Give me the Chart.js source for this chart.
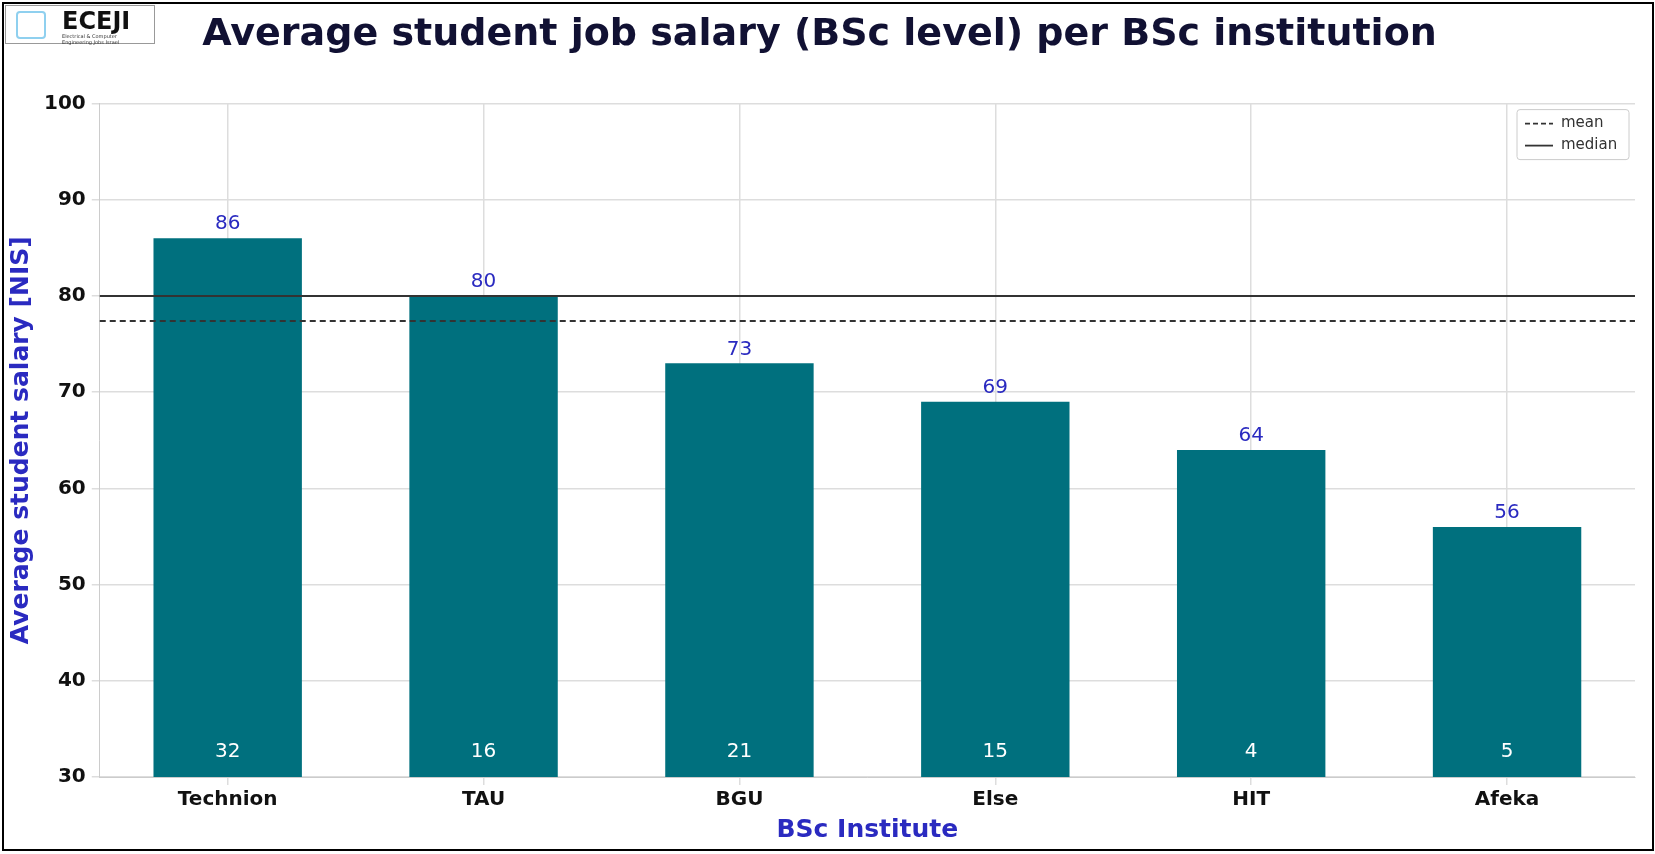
<!DOCTYPE html>
<html>
<head>
<meta charset="utf-8">
<script src="https://cdn.jsdelivr.net/npm/chart.js@4"></script>
<style>
  body { margin: 0; background: #fff; font-family: "DejaVu Sans", sans-serif; }
  #frame { position: absolute; left: 2px; top: 2px; width: 1648px; height: 845px; border: 2px solid #000; }
  #logo { position: absolute; left: 5px; top: 5px; width: 148px; height: 37px; border: 1px solid #999; background: #fff; }
  #logo .big { position: absolute; left: 56px; top: 1px; font: bold 24px "DejaVu Sans"; color: #111; }
  #logo .small { position: absolute; left: 56px; top: 27px; font: 5px "DejaVu Sans"; color: #333; line-height: 6px; }
  #logo .icon { position: absolute; left: 10px; top: 5px; width: 26px; height: 24px; border: 2px solid #8fd0ef; border-radius: 4px; }
  #wrap { position: absolute; left: 4px; top: 4px; width: 1645px; height: 843px; }
</style>
</head>
<body>
<div id="frame"></div>
<div id="wrap"><canvas id="chart"></canvas></div>
<div id="logo"><div class="icon"></div><div class="big">ECEJI</div><div class="small">Electrical &amp; Computer<br>Engineering Jobs Israel</div></div>
<script>
const institutes = ['Technion', 'TAU', 'BGU', 'Else', 'HIT', 'Afeka'];
const salaries = [86, 80, 73, 69, 64, 56];
const counts = [32, 16, 21, 15, 4, 5];
const meanSalary = 77.4;
const medianSalary = 80;

const overlay = {
  id: 'overlay',
  afterDatasetsDraw(chart) {
    const ctx = chart.ctx, x = chart.scales.x, y = chart.scales.y, a = chart.chartArea;
    ctx.save();
    ctx.strokeStyle = '#333'; ctx.lineWidth = 1.8;
    ctx.setLineDash([6, 4]);
    ctx.beginPath(); ctx.moveTo(a.left, y.getPixelForValue(meanSalary)); ctx.lineTo(a.right, y.getPixelForValue(meanSalary)); ctx.stroke();
    ctx.setLineDash([]);
    ctx.beginPath(); ctx.moveTo(a.left, y.getPixelForValue(medianSalary)); ctx.lineTo(a.right, y.getPixelForValue(medianSalary)); ctx.stroke();
    ctx.font = '20px "DejaVu Sans"'; ctx.textAlign = 'center';
    chart.getDatasetMeta(0).data.forEach((bar, i) => {
      ctx.fillStyle = '#2a2ac0'; ctx.textBaseline = 'bottom';
      ctx.fillText(String(salaries[i]), bar.x, bar.y - 4);
      ctx.fillStyle = '#fff'; ctx.textBaseline = 'middle';
      ctx.fillText(String(counts[i]), bar.x, y.getPixelForValue(32.6));
    });
    const lx = a.right - 118, ly = a.top + 6;
    ctx.fillStyle = 'rgba(255,255,255,0.9)'; ctx.strokeStyle = '#ccc'; ctx.lineWidth = 1;
    ctx.beginPath(); ctx.roundRect(lx, ly, 112, 50, 3); ctx.fill(); ctx.stroke();
    ctx.strokeStyle = '#333'; ctx.lineWidth = 1.8;
    ctx.setLineDash([5, 3]);
    ctx.beginPath(); ctx.moveTo(lx + 8, ly + 14); ctx.lineTo(lx + 36, ly + 14); ctx.stroke();
    ctx.setLineDash([]);
    ctx.beginPath(); ctx.moveTo(lx + 8, ly + 36); ctx.lineTo(lx + 36, ly + 36); ctx.stroke();
    ctx.fillStyle = '#333'; ctx.font = '15px "DejaVu Sans"'; ctx.textAlign = 'left'; ctx.textBaseline = 'middle';
    ctx.fillText('mean', lx + 44, ly + 14);
    ctx.fillText('median', lx + 44, ly + 36);
    ctx.restore();
  }
};

new Chart(document.getElementById('chart'), {
  type: 'bar',
  data: {
    labels: institutes,
    datasets: [{ data: salaries, backgroundColor: '#00707e', categoryPercentage: 1, barPercentage: 0.58 }]
  },
  options: {
    responsive: true, maintainAspectRatio: false, animation: false,
    layout: { padding: { top: 0, right: 14, left: 0, bottom: 0 } },
    plugins: {
      legend: { display: false }, tooltip: { enabled: false },
      title: { display: true, text: 'Average student job salary (BSc level) per BSc institution',
        color: '#111133', font: { family: 'DejaVu Sans', size: 38, weight: 'bold' }, padding: { top: 8, bottom: 46 } }
    },
    scales: {
      x: {
        grid: { color: '#dddddd', lineWidth: 1.5, offset: false },
        border: { color: '#cccccc' },
        ticks: { color: '#111', padding: 3, font: { family: 'DejaVu Sans', size: 20, weight: 'bold' } },
        title: { display: true, text: 'BSc Institute', color: '#2a2ac0', font: { family: 'DejaVu Sans', size: 25, weight: 'bold' }, padding: { top: 0, bottom: 2 } }
      },
      y: {
        min: 30, max: 100,
        grid: { color: '#dddddd', lineWidth: 1.5 },
        border: { color: '#cccccc' },
        ticks: { stepSize: 10, color: '#111', padding: 6, font: { family: 'DejaVu Sans', size: 20, weight: 'bold' } },
        title: { display: true, text: 'Average student salary [NIS]', color: '#2a2ac0', font: { family: 'DejaVu Sans', size: 25, weight: 'bold' }, padding: 2 }
      }
    }
  },
  plugins: [overlay]
});
</script>
</body>
</html>
